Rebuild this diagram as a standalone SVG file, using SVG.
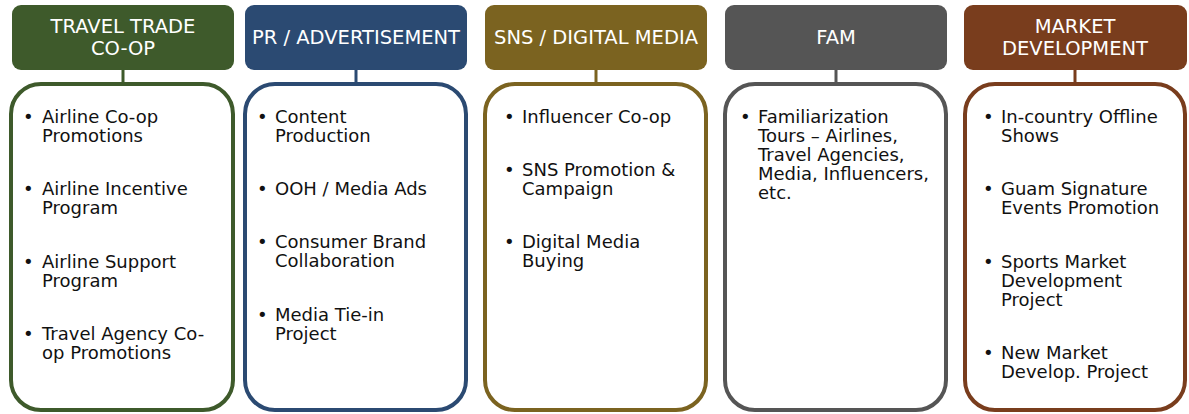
<svg xmlns="http://www.w3.org/2000/svg" width="1189" height="414" viewBox="0 0 1189 414">
<style>
.hd{font-family:"DejaVu Sans","Liberation Sans",sans-serif;font-size:19.5px;fill:#ffffff;text-anchor:middle}
.tx{font-family:"DejaVu Sans","Liberation Sans",sans-serif;font-size:18px;fill:#111111}
.box{fill:#ffffff;stroke-width:4}
.cn{stroke-width:3;fill:none}
</style>
<rect width="1189" height="414" fill="#ffffff"/>
<g id="connectors">
<line class="cn" x1="123" y1="70" x2="123" y2="84" stroke="#3e5a2b"/>
<line class="cn" x1="356" y1="70" x2="356" y2="84" stroke="#2b4a72"/>
<line class="cn" x1="596" y1="70" x2="596" y2="84" stroke="#7b6320"/>
<line class="cn" x1="836" y1="70" x2="836" y2="84" stroke="#555555"/>
<line class="cn" x1="1075" y1="70" x2="1075" y2="84" stroke="#793d1d"/>
</g>
<g id="travel-trade">
<rect x="12" y="5" width="222" height="65" rx="9" fill="#3e5a2b"/>
<text class="hd" x="123" y="33">TRAVEL TRADE</text>
<text class="hd" x="123" y="55">CO-OP</text>
<rect class="box" x="11" y="84" width="222" height="326" rx="30" stroke="#3e5a2b"/>
<text class="tx"><tspan x="23" y="123">•</tspan><tspan x="42" y="123">Airline Co-op</tspan><tspan x="42" y="142">Promotions</tspan>
<tspan x="23" y="195">•</tspan><tspan x="42" y="195">Airline Incentive</tspan><tspan x="42" y="214">Program</tspan>
<tspan x="23" y="268">•</tspan><tspan x="42" y="268">Airline Support</tspan><tspan x="42" y="287">Program</tspan>
<tspan x="23" y="340">•</tspan><tspan x="42" y="340">Travel Agency Co-</tspan><tspan x="42" y="359">op Promotions</tspan></text>
</g>
<g id="pr-advertisement">
<rect x="245" y="5" width="222" height="65" rx="9" fill="#2b4a72"/>
<text class="hd" x="356" y="44">PR / ADVERTISEMENT</text>
<rect class="box" x="245" y="84" width="221" height="326" rx="30" stroke="#2b4a72"/>
<text class="tx"><tspan x="257" y="123">•</tspan><tspan x="275" y="123">Content</tspan><tspan x="275" y="142">Production</tspan>
<tspan x="257" y="195">•</tspan><tspan x="275" y="195">OOH / Media Ads</tspan>
<tspan x="257" y="248">•</tspan><tspan x="275" y="248">Consumer Brand</tspan><tspan x="275" y="267">Collaboration</tspan>
<tspan x="257" y="321">•</tspan><tspan x="275" y="321">Media Tie-in</tspan><tspan x="275" y="340">Project</tspan></text>
</g>
<g id="sns-digital">
<rect x="485" y="5" width="222" height="65" rx="9" fill="#7b6320"/>
<text class="hd" x="596" y="44">SNS / DIGITAL MEDIA</text>
<rect class="box" x="485" y="84" width="221" height="326" rx="30" stroke="#7b6320"/>
<text class="tx"><tspan x="504" y="123">•</tspan><tspan x="522" y="123">Influencer Co-op</tspan>
<tspan x="504" y="176">•</tspan><tspan x="522" y="176">SNS Promotion &amp;</tspan><tspan x="522" y="195">Campaign</tspan>
<tspan x="504" y="248">•</tspan><tspan x="522" y="248">Digital Media</tspan><tspan x="522" y="267">Buying</tspan></text>
</g>
<g id="fam">
<rect x="725" y="5" width="222" height="65" rx="9" fill="#555555"/>
<text class="hd" x="836" y="44">FAM</text>
<rect class="box" x="725" y="84" width="221" height="326" rx="30" stroke="#555555"/>
<text class="tx"><tspan x="740" y="123">•</tspan><tspan x="758" y="123">Familiarization</tspan><tspan x="758" y="142">Tours – Airlines,</tspan><tspan x="758" y="161">Travel Agencies,</tspan><tspan x="758" y="180">Media, Influencers,</tspan><tspan x="758" y="199">etc.</tspan></text>
</g>
<g id="market-development">
<rect x="964" y="5" width="223" height="65" rx="9" fill="#793d1d"/>
<text class="hd" x="1075" y="33">MARKET</text>
<text class="hd" x="1075" y="55">DEVELOPMENT</text>
<rect class="box" x="965" y="84" width="220" height="326" rx="30" stroke="#793d1d"/>
<text class="tx"><tspan x="983" y="123">•</tspan><tspan x="1001" y="123">In-country Offline</tspan><tspan x="1001" y="142">Shows</tspan>
<tspan x="983" y="195">•</tspan><tspan x="1001" y="195">Guam Signature</tspan><tspan x="1001" y="214">Events Promotion</tspan>
<tspan x="983" y="268">•</tspan><tspan x="1001" y="268">Sports Market</tspan><tspan x="1001" y="287">Development</tspan><tspan x="1001" y="306">Project</tspan>
<tspan x="983" y="359">•</tspan><tspan x="1001" y="359">New Market</tspan><tspan x="1001" y="378">Develop. Project</tspan></text>
</g>
</svg>
